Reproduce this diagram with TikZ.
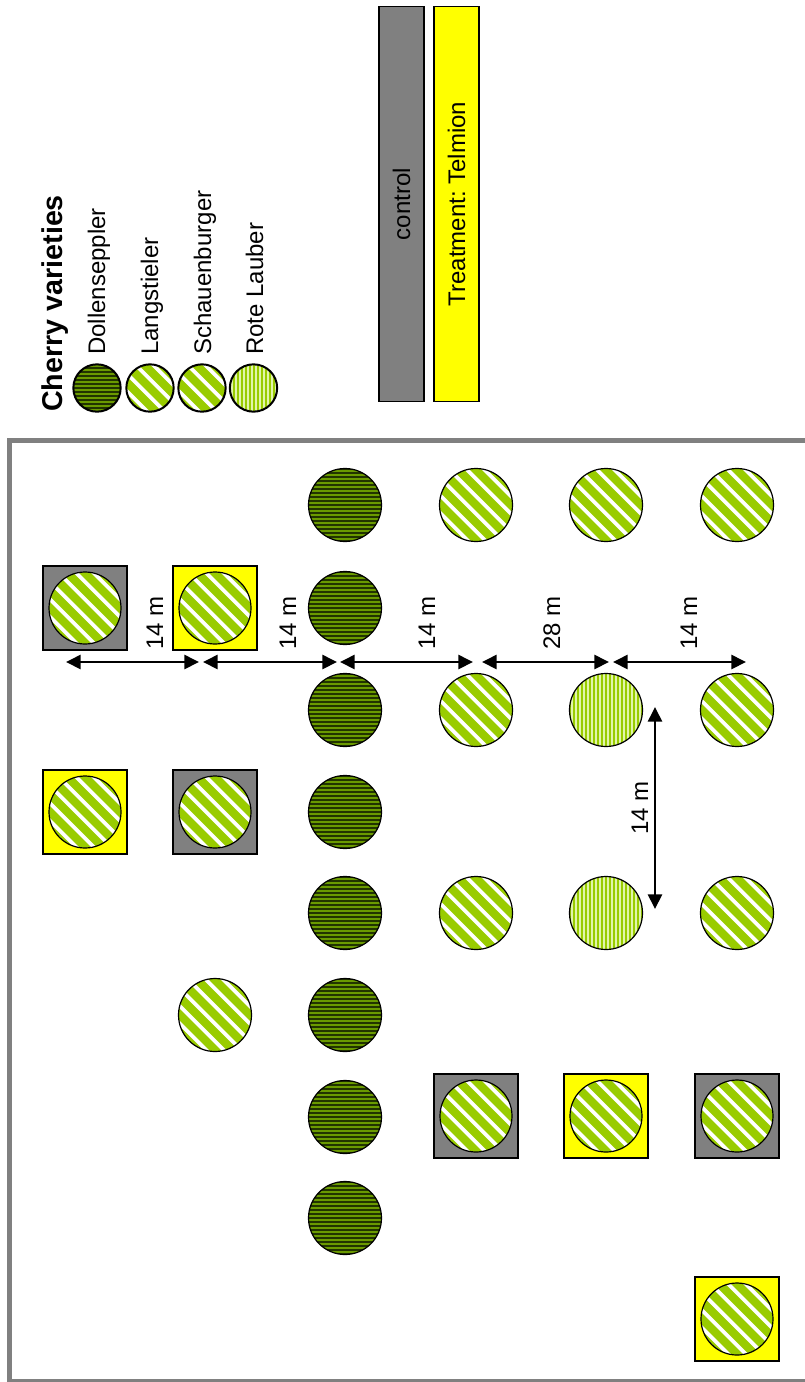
\documentclass[tikz,border=0pt]{standalone}
\usepackage{fontspec}
\setmainfont{Liberation Sans}
\usetikzlibrary{arrows.meta}
\frenchspacing
\definecolor{ctrlgray}{HTML}{808080}
\definecolor{treatyellow}{HTML}{FFFF00}
\definecolor{cgreen}{HTML}{99CC00}
\definecolor{dbase}{HTML}{6A9A00}
\definecolor{dline}{HTML}{223400}
\definecolor{rbase}{HTML}{E2F5AA}
\tikzset{
  tree/.style={circle, draw=black, line width=0.9pt, inner sep=0pt, minimum size=#1},
  dolle/.style={tree=#1, fill=dbase, path picture={
     \foreach \k in {-13,...,13}
       \draw[dline, line width=1.5pt] ([shift={(-40,\k*4)}]path picture bounding box.center) -- ++(80,0);}},
  lang/.style={tree=#1, fill=white, path picture={
     \foreach \k in {-8,...,8}
       \draw[cgreen, line width=6.2pt] ([shift={(\k*17.5-60,-60)}]path picture bounding box.center) -- ++(120,120);}},
  rote/.style={tree=#1, fill=rbase, path picture={
     \foreach \k in {-13,...,13}
       \draw[cgreen, line width=1.5pt] ([shift={(\k*4,-40)}]path picture bounding box.center) -- ++(0,80);}},
  sq/.style={rectangle, draw=black, line width=1.6pt, minimum size=62.5pt, inner sep=0pt},
  bar/.style={rectangle, draw=black, line width=1.2pt, minimum width=296pt, minimum height=33.5pt, inner sep=0pt, rotate=90, font=\fontsize{18}{20}\selectfont},
  lbl/.style={rotate=90, inner sep=0pt, font=\fontsize{18}{20}\selectfont},
  dim/.style={line width=2pt, {Triangle[length=11pt,width=10.5pt]}-{Triangle[length=11pt,width=10.5pt]}},
  frame/.style={draw=ctrlgray, line width=3.75pt},
}
\begin{document}
\begin{tikzpicture}[x=0.75pt,y=-0.75pt]
\useasboundingbox (0,0) rectangle (804,1382);
% frame
\draw[frame] (9.5,440.5) rectangle (810,1381.5);
% legend
\node[rotate=90, anchor=base west, inner sep=0pt, font=\fontsize{21.5}{24}\selectfont\bfseries] (title) at (62,412) {Cherry varieties};
\node[lbl, anchor=base west] (tdol) at (105,355) {Dollenseppler};
\node[lbl, anchor=base west] (tlan) at (158,355) {Langstieler};
\node[lbl, anchor=base west] (tsch) at (211,355) {Schauenburger};
\node[lbl, anchor=base west] (trot) at (263,355) {Rote Lauber};
\node[dolle=35.5pt, line width=1.5pt] (ldol) at (97,388) {};
\node[lang=35.5pt, line width=1.5pt] (llan) at (150,388) {};
\node[lang=35.5pt, line width=1.5pt] (lsch) at (202,388) {};
\node[rote=35.5pt, line width=1.5pt] (lrot) at (253.5,388) {};
% treatment bars
\node[bar, fill=ctrlgray] (ctrl) at (401.5,204) {control};
\node[bar, fill=treatyellow] (treat) at (456.5,204) {Treatment: Telmion};
% Dollenseppler column
\foreach \y [count=\i] in {505,608,710,812,913,1015,1117,1218}
  \node[dolle=54.75pt] (d\i) at (345,\y) {};
% Langstieler / Rote Lauber trees
\node[lang=54.75pt] (c476a) at (476,505) {};
\node[lang=54.75pt] (c476b) at (476,710) {};
\node[lang=54.75pt] (c476c) at (476,913) {};
\node[lang=54.75pt] (c606a) at (606,505) {};
\node[rote=54.75pt] (c606b) at (606,710) {};
\node[rote=54.75pt] (c606c) at (606,913) {};
\node[lang=54.75pt] (c737a) at (737,505) {};
\node[lang=54.75pt] (c737b) at (737,710) {};
\node[lang=54.75pt] (c737c) at (737,913) {};
\node[lang=54.75pt] (c215) at (215,1015) {};
% squares with trees
\foreach \x/\y/\c/\n in {85/608/ctrlgray/s1, 215/608/treatyellow/s2, 85/812/treatyellow/s3, 215/812/ctrlgray/s4,
    476/1116/ctrlgray/s5, 606/1116/treatyellow/s6, 737/1116/ctrlgray/s7, 737/1319/treatyellow/s8}{
  \node[sq, fill=\c] (\n) at (\x,\y) {};
  \node[lang=54pt] (\n t) at (\x,\y) {};
}
% dimension arrows
\coordinate (a1) at (66,662);  \coordinate (a2) at (199,662);
\coordinate (b1) at (203,662); \coordinate (b2) at (337,662);
\coordinate (e1) at (340,662); \coordinate (e2) at (473,662);
\coordinate (f1) at (482,662); \coordinate (f2) at (609,662);
\coordinate (g1) at (613,662); \coordinate (g2) at (746,662);
\coordinate (v1) at (655,707); \coordinate (v2) at (655,909);
\draw[dim] (a1) -- (a2);
\draw[dim] (b1) -- (b2);
\draw[dim] (e1) -- (e2);
\draw[dim] (f1) -- (f2);
\draw[dim] (g1) -- (g2);
\draw[dim] (v1) -- (v2);
\node[lbl, anchor=base west] (m1) at (163,650) {14 m};
\node[lbl, anchor=base west] (m2) at (296,650) {14 m};
\node[lbl, anchor=base west] (m3) at (435,650) {14 m};
\node[lbl, anchor=base west] (m4) at (560,650) {28 m};
\node[lbl, anchor=base west] (m5) at (697,650) {14 m};
\node[lbl, anchor=base] (m6) at (648,808) {14 m};
\end{tikzpicture}
\end{document}
